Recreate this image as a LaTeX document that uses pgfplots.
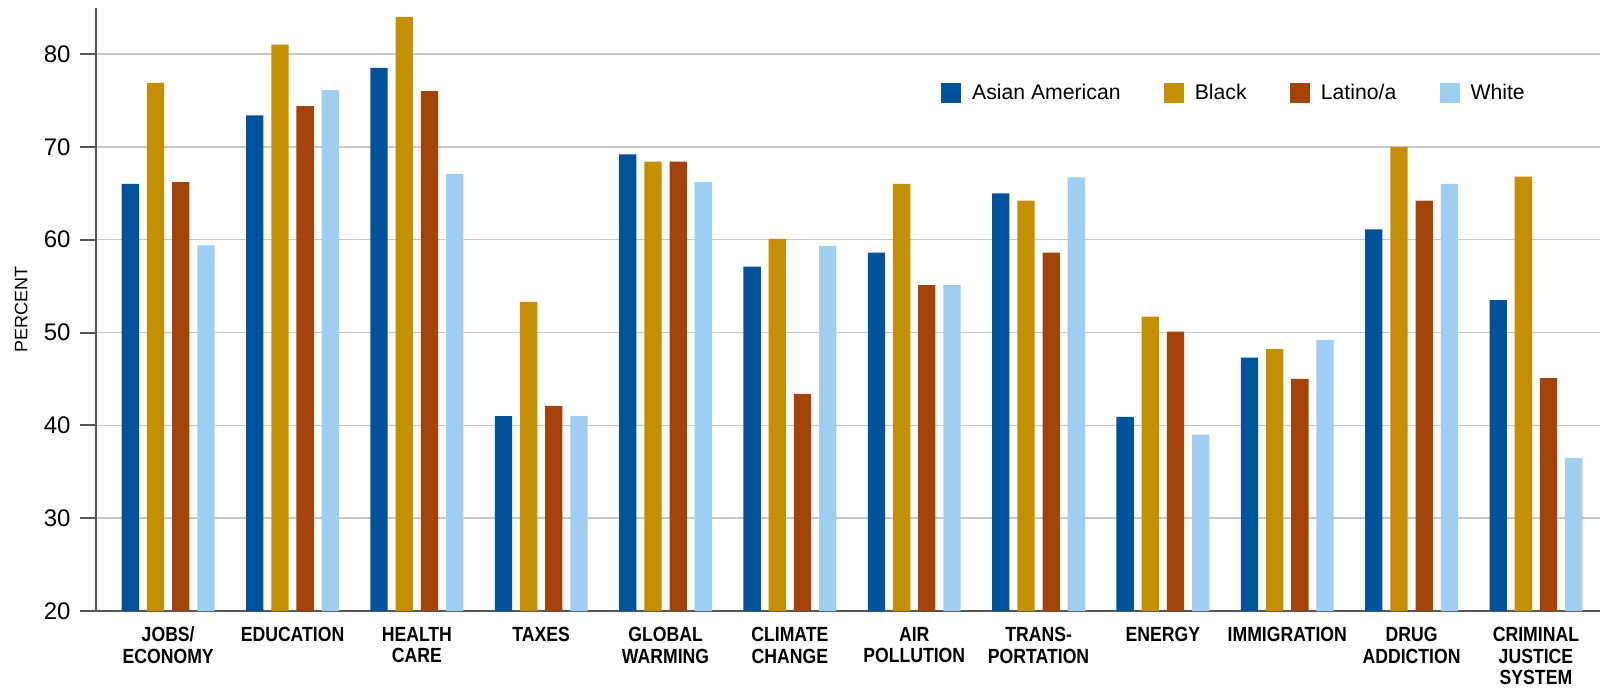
\documentclass[border=0pt]{standalone}
\usepackage{pgfplots}
\pgfplotsset{compat=1.18}
\usepackage{fontspec}
\setmainfont{Liberation Sans}
\newfontfamily\condsans[FakeStretch=0.86]{Liberation Sans}
\definecolor{cAsian}{HTML}{00529B}
\definecolor{cBlack}{HTML}{C48F00}
\definecolor{cLatino}{HTML}{A3430A}
\definecolor{cWhite}{HTML}{9ECEF2}
\definecolor{gridc}{HTML}{C8C8C8}
\definecolor{axc}{HTML}{555555}
\begin{document}
\begin{tikzpicture}
\begin{axis}[
  scale only axis,
  width=752.2pt, height=301.7pt,
  anchor=south west, at={(0pt,0pt)},
  ybar=3.95pt, bar width=8.65pt,
  xmin=-0.583, xmax=11.516,
  ymin=20, ymax=85,
  ytick={20,30,40,50,60,70,80},
  xtick={0,1,2,3,4,5,6,7,8,9,10,11},
  xticklabels={{JOBS/\\ECONOMY},{EDUCATION},{HEALTH\\CARE},{TAXES},{GLOBAL\\WARMING},{CLIMATE\\CHANGE},{AIR\\POLLUTION},{TRANS-\\PORTATION},{ENERGY},{IMMIGRATION},{DRUG\\ADDICTION},{CRIMINAL\\JUSTICE\\SYSTEM}},
  axis x line*=bottom, axis y line*=left,
  axis line style={draw=axc, line width=1pt, -},
  ymajorgrids, grid style={draw=gridc, line width=0.8pt},
  tick align=outside,
  ytick style={draw=axc, line width=1pt},
  major tick length=7.85pt,
  xtick style={draw=none},
  /pgf/number format/assume math mode=true,
  yticklabel style={font=\fontsize{12}{14}\selectfont, inner xsep=0pt, xshift=-4.5pt},
  xticklabel style={font=\condsans\bfseries\fontsize{10.25}{10.85}\selectfont, align=center, anchor=north, inner sep=0pt, yshift=0pt},
  ylabel={PERCENT},
  ylabel style={font=\fontsize{9}{10}\selectfont, at={(axis description cs:-0.0495,0.5)}, anchor=center, rotate=0},
  legend image code/.code={\fill[#1, draw=none] (0pt,-5pt) rectangle (10pt,5pt);},
  legend columns=4,
  legend style={draw=none, fill=none, at={(axis description cs:0.562,0.858)}, anchor=west, inner sep=0pt, outer sep=0pt,
    font=\fontsize{10.6}{12}\selectfont, column sep=5.5pt,
    /tikz/every even column/.append style={column sep=21.6pt},
    nodes={inner sep=0pt}},
  legend cell align=left,
  clip=false,
]
\addplot[fill=cAsian, draw=none] coordinates {(0,66.0) (1,73.4) (2,78.5) (3,41.0) (4,69.2) (5,57.1) (6,58.6) (7,65.0) (8,40.9) (9,47.3) (10,61.1) (11,53.5)};
\addplot[fill=cBlack, draw=none] coordinates {(0,76.9) (1,81.0) (2,84.0) (3,53.3) (4,68.4) (5,60.1) (6,66.0) (7,64.2) (8,51.7) (9,48.2) (10,70.0) (11,66.8)};
\addplot[fill=cLatino, draw=none] coordinates {(0,66.2) (1,74.4) (2,76.0) (3,42.1) (4,68.4) (5,43.4) (6,55.1) (7,58.6) (8,50.1) (9,45.0) (10,64.2) (11,45.1)};
\addplot[fill=cWhite, draw=none] coordinates {(0,59.4) (1,76.1) (2,67.1) (3,41.0) (4,66.2) (5,59.3) (6,55.1) (7,66.7) (8,39.0) (9,49.2) (10,66.0) (11,36.5)};
\legend{Asian American, Black, Latino/a, White}
\end{axis}
\pgfresetboundingbox
\path[use as bounding box] (-47.85pt,-38pt) rectangle (754.15pt,305.5pt);
\end{tikzpicture}
\end{document}
